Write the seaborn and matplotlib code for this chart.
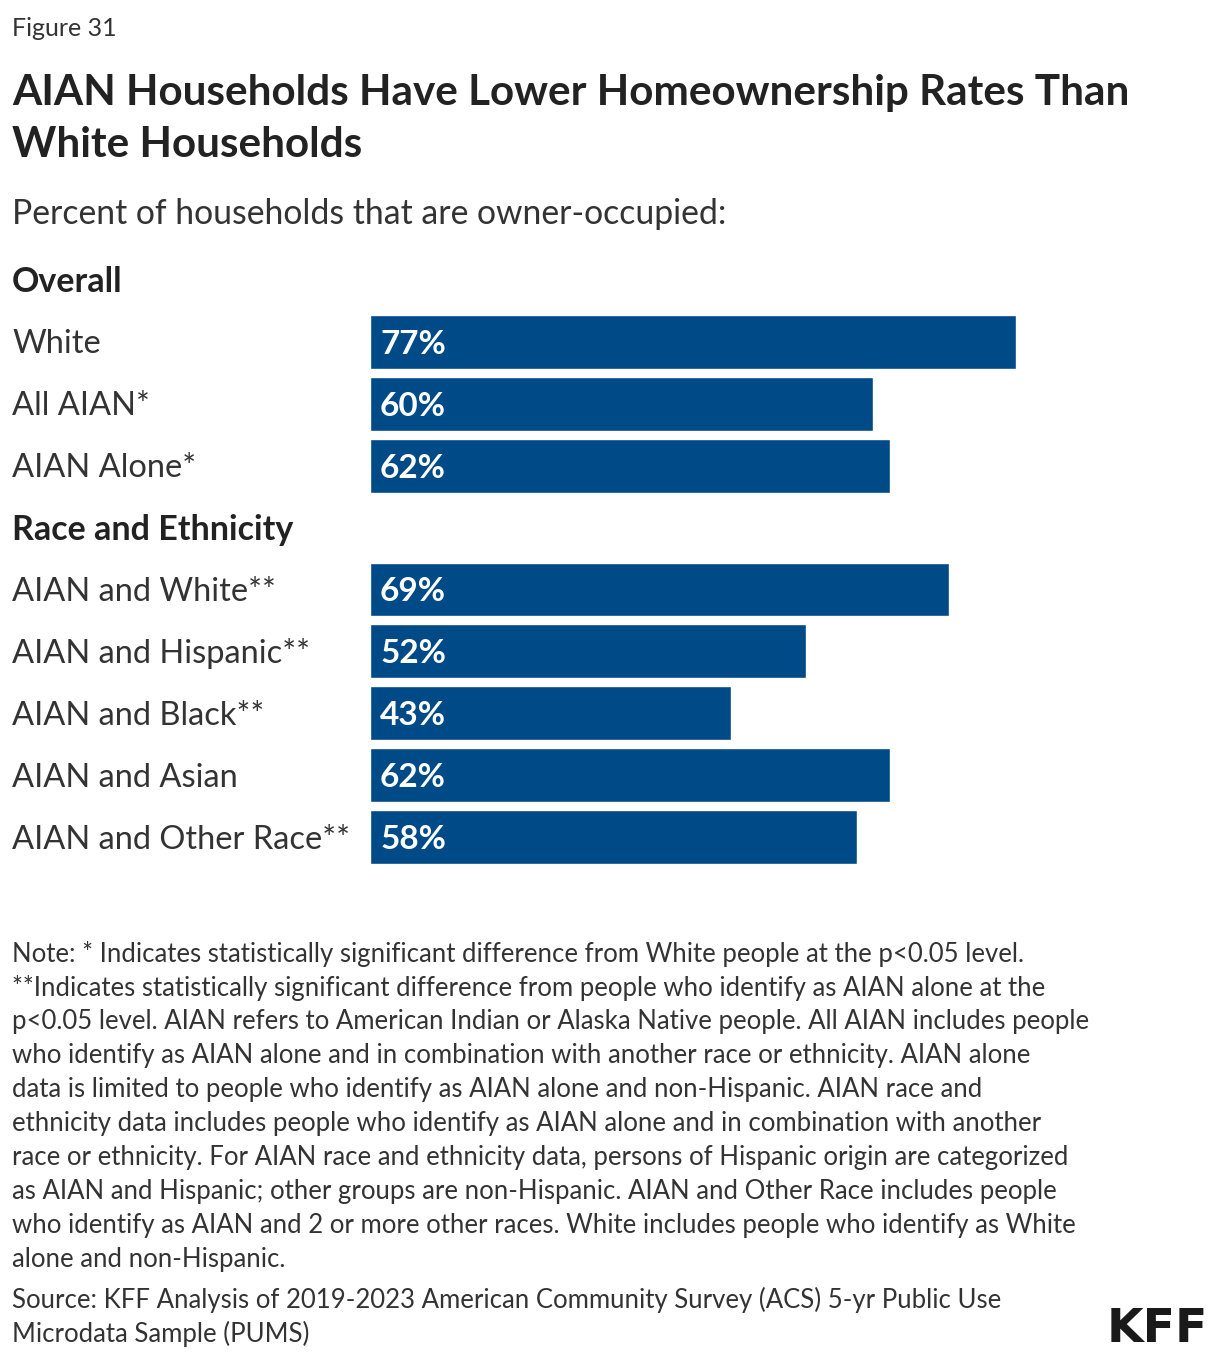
import pandas as pd
import numpy as np
import seaborn as sns
from matplotlib import pyplot as plt
from matplotlib import transforms

# data
groups = ["White", "All AIAN*", "AIAN Alone*",
          "AIAN and White**", "AIAN and Hispanic**", "AIAN and Black**",
          "AIAN and Asian", "AIAN and Other Race**"]
values = [77, 60, 62, 69, 52, 43, 62, 58]
headers = ["Overall", "Race and Ethnicity"]
row_order = ["Overall", "White", "All AIAN*", "AIAN Alone*",
             "Race and Ethnicity", "AIAN and White**", "AIAN and Hispanic**",
             "AIAN and Black**", "AIAN and Asian", "AIAN and Other Race**"]

note_lines = [
    "Note: * Indicates statistically significant difference from White people at the p<0.05 level.",
    "**Indicates statistically significant difference from people who identify as AIAN alone at the",
    "p<0.05 level. AIAN refers to American Indian or Alaska Native people. All AIAN includes people",
    "who identify as AIAN alone and in combination with another race or ethnicity. AIAN alone",
    "data is limited to people who identify as AIAN alone and non-Hispanic. AIAN race and",
    "ethnicity data includes people who identify as AIAN alone and in combination with another",
    "race or ethnicity. For AIAN race and ethnicity data, persons of Hispanic origin are categorized",
    "as AIAN and Hispanic; other groups are non-Hispanic. AIAN and Other Race includes people",
    "who identify as AIAN and 2 or more other races. White includes people who identify as White",
    "alone and non-Hispanic.",
]
source_lines = [
    "Source: KFF Analysis of 2019-2023 American Community Survey (ACS) 5-yr Public Use",
    "Microdata Sample (PUMS)",
]

df = pd.DataFrame({"group": groups, "pct": values})

sns.set_style("white")
plt.rcParams['font.family'] = ['Lato', 'DejaVu Sans']

W, H = 1220, 1360
fig = plt.figure(figsize=(W / 100, H / 100), dpi=100)

def fx(px):
    return px / W

def fy(py):
    return 1 - py / H

ax = fig.add_axes([fx(370), fy(868), fx(1209) - fx(370), (868 - 249) / H])
sns.barplot(data=df, x="pct", y="group", order=row_order, color="#004B87",
            saturation=1, width=0.87, ax=ax, orient="h")
ax.set_xlim(0, 100)
ax.set_ylim(9.5, -0.5)
ax.set_xlabel("")
ax.set_ylabel("")
ax.set_xticks([])
ax.set_yticks([])
sns.despine(ax=ax, left=True, bottom=True)

nudge = 0.04  # text sits a touch low in the original

# value labels inside the bars, near the left end
for p in ax.patches:
    w = p.get_width()
    if np.isnan(w) or w == 0:
        continue
    ax.text(1.2, p.get_y() + p.get_height() / 2 + nudge, f"{w:.0f}%", color="white",
            fontsize=24, fontweight="bold", ha="left", va="center")

# row labels at left edge of figure
trans = transforms.blended_transform_factory(fig.transFigure, ax.transData)
for i, name in enumerate(row_order):
    if name in headers:
        ax.text(fx(12), i + nudge, name, transform=trans, ha="left", va="center",
                fontsize=24.5, fontweight="bold", color="#222222")
    else:
        ax.text(fx(12), i + nudge, name, transform=trans, ha="left", va="center",
                fontsize=23.5, color="#333333")

fig.text(fx(12), fy(28), "Figure 31", fontsize=18, color="#333333", va="center")
fig.text(fx(12), fy(93), "AIAN Households Have Lower Homeownership Rates Than",
         fontsize=30.4, fontweight="bold", color="#222222", va="center")
fig.text(fx(12), fy(145), "White Households",
         fontsize=30.4, fontweight="bold", color="#222222", va="center")
fig.text(fx(12), fy(214), "Percent of households that are owner-occupied:",
         fontsize=24.3, color="#333333", va="center")

for i, line in enumerate(note_lines):
    fig.text(fx(12), fy(954 + 34 * i), line, fontsize=18.5, color="#333333", va="center")
for i, line in enumerate(source_lines):
    fig.text(fx(12), fy(1300 + 34 * i), line, fontsize=18.5, color="#333333", va="center")

fig.text(fx(1208), fy(1329), "KFF", fontsize=34, fontweight="bold",
         family=["Liberation Sans Narrow", "DejaVu Sans"], color="#1a1a1a",
         ha="right", va="center")

fig.savefig("out.png", dpi=100, facecolor="white")
